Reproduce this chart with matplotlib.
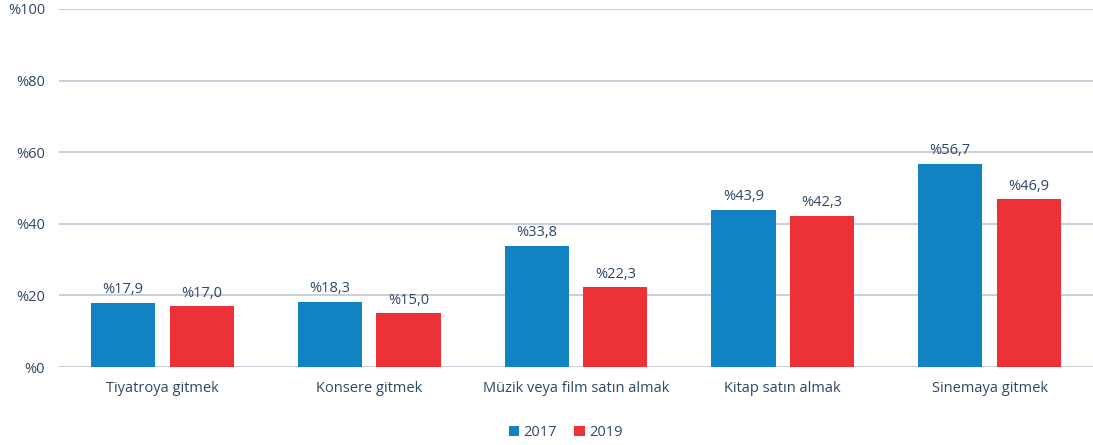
import numpy as np
import matplotlib
matplotlib.use("Agg")
import matplotlib.pyplot as plt

plt.rcParams['font.family'] = ['Open Sans', 'DejaVu Sans']

categories = ["Tiyatroya gitmek", "Konsere gitmek", "Müzik veya film satın almak",
              "Kitap satın almak", "Sinemaya gitmek"]
years = ["2017", "2019"]
values_2017 = [17.9, 18.3, 33.8, 43.9, 56.7]
values_2019 = [17.0, 15.0, 22.3, 42.3, 46.9]

text_color = "#2D4766"
grid_color = "#BCC8D4"
colors = ["#1283C2", "#EC3237"]

fig = plt.figure(figsize=(10.93, 4.45), dpi=100)
ax = fig.add_axes([0.054, 0.175, 0.946, 0.805])

x = np.arange(len(categories))
w = 0.31
off = 0.19
series = [values_2017, values_2019]
for i, vals in enumerate(series):
    pos = x + (i * 2 - 1) * off
    bars = ax.bar(pos, vals, width=w, color=colors[i], label=years[i], zorder=3)
    for b, v in zip(bars, vals):
        ax.annotate("%" + f"{v:.1f}".replace(".", ","),
                    (b.get_x() + b.get_width() / 2, v),
                    xytext=(0, 4), textcoords="offset points",
                    ha="center", va="bottom", fontsize=10.5, color=text_color)

ax.set_xlim(-0.5, len(categories) - 0.5)
ax.set_ylim(0, 100)
ax.set_yticks(range(0, 101, 20))
ax.set_yticklabels(["%" + str(t) for t in range(0, 101, 20)])
ax.set_xticks(x)
ax.set_xticklabels(categories)
ax.tick_params(axis="both", length=0, labelsize=10.5, colors=text_color)
ax.tick_params(axis="y", pad=10)
ax.tick_params(axis="x", pad=10)
ax.grid(axis="y", color=grid_color, linewidth=1.2, zorder=0)
for s in ax.spines.values():
    s.set_visible(False)

ax.legend(loc="upper center", bbox_to_anchor=(0.49, -0.125), ncol=2,
          frameon=False, fontsize=10.5, labelcolor=text_color,
          handlelength=0.7, handleheight=0.7, handletextpad=0.3, columnspacing=1.2)

fig.savefig("out.png", dpi=100)
